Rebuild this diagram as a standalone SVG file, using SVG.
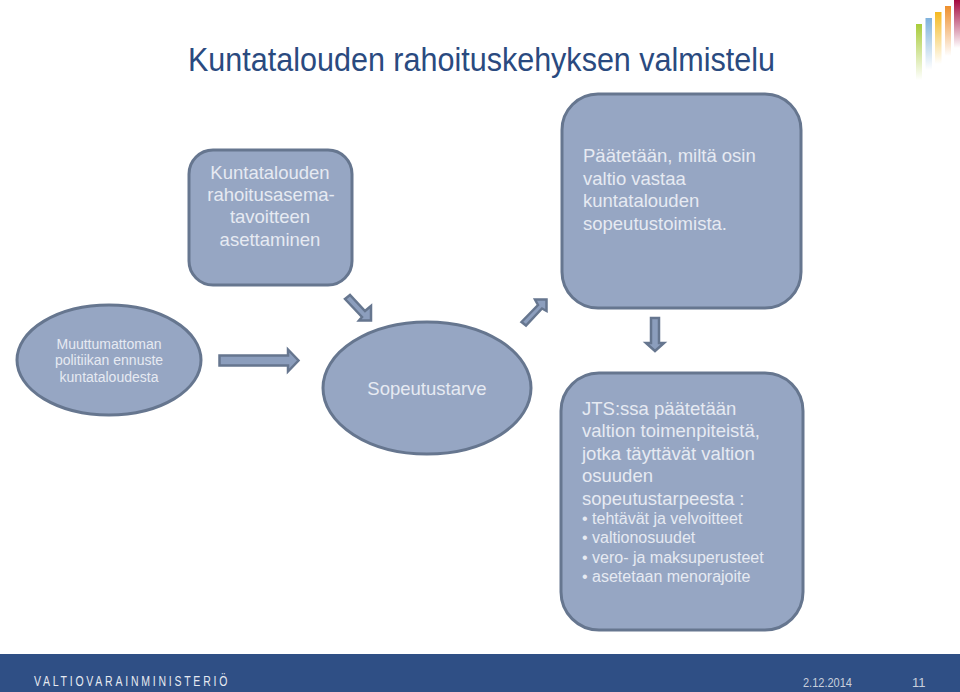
<svg xmlns="http://www.w3.org/2000/svg" width="960" height="692" viewBox="0 0 960 692">
<style>
text{font-family:"Liberation Sans",Arial,sans-serif;fill:#e6eaf2}
.n{fill:#96a6c3;stroke:#66768f;stroke-width:3}
.a{fill:#8c9ebd;stroke:#66768f;stroke-width:2.5}
.f{fill:#c9d0dc;font-size:13px}
</style>
<defs>
<linearGradient id="g1" x1="0" y1="0" x2="0" y2="1"><stop offset="0" stop-color="#a9cc3a"/><stop offset="1" stop-color="#a9cc3a" stop-opacity="0"/></linearGradient>
<linearGradient id="g2" x1="0" y1="0" x2="0" y2="1"><stop offset="0" stop-color="#7fb2dc"/><stop offset="1" stop-color="#7fb2dc" stop-opacity="0"/></linearGradient>
<linearGradient id="g3" x1="0" y1="0" x2="0" y2="1"><stop offset="0" stop-color="#f5b921"/><stop offset="1" stop-color="#f5b921" stop-opacity="0"/></linearGradient>
<linearGradient id="g4" x1="0" y1="0" x2="0" y2="1"><stop offset="0" stop-color="#ee8f2c"/><stop offset="1" stop-color="#ee8f2c" stop-opacity="0"/></linearGradient>
<linearGradient id="g5" x1="0" y1="0" x2="0" y2="1"><stop offset="0" stop-color="#a5093f"/><stop offset="1" stop-color="#a5093f" stop-opacity="0"/></linearGradient>
</defs>
<rect width="960" height="692" fill="#fff"/>
<g id="logo">
<rect x="916" y="24" width="6" height="56" fill="url(#g1)"/>
<rect x="925.500" y="18" width="6.500" height="52" fill="url(#g2)"/>
<rect x="935" y="12" width="6.500" height="52" fill="url(#g3)"/>
<rect x="945" y="6" width="6" height="50" fill="url(#g4)"/>
<rect x="954" y="0" width="6" height="48" fill="url(#g5)"/>
</g>
<text id="title" x="188" y="71" style="font-size:32.5px;fill:#2a4a7f" textLength="587" lengthAdjust="spacingAndGlyphs">Kuntatalouden rahoituskehyksen valmistelu</text>
<g id="connectors">
<path class="a" d="M219.500 355.500H288V349.500L298.500 360.500L288 371.500V365.500H219.500Z"/>
<path class="a" d="M345 299L350 295L365 311L371 306V320.500H359L362 317Z"/>
<path class="a" d="M521.500 322L526 325.500L542 308.500L546.500 311V299.500H535L538 305Z"/>
<path class="a" d="M651 318H659V343H664L655 351L646 343H651Z"/>
</g>
<g id="node-tavoite">
<rect class="n" x="189" y="150" width="163" height="135" rx="24"/>
<g font-size="18.500" text-anchor="middle"><text x="270" y="179">Kuntatalouden</text><text x="271" y="201">rahoitusasema-</text><text x="270" y="223">tavoitteen</text><text x="270" y="246">asettaminen</text></g>
</g>
<g id="node-paatetaan">
<rect class="n" x="562" y="94" width="239" height="214" rx="36"/>
<g font-size="18.500"><text x="583" y="162">Päätetään, miltä osin</text><text x="583" y="185">valtio vastaa</text><text x="583" y="207">kuntatalouden</text><text x="583" y="230">sopeutustoimista.</text></g>
</g>
<g id="node-ennuste">
<ellipse class="n" cx="109" cy="360" rx="92" ry="55"/>
<g font-size="14" text-anchor="middle"><text x="109" y="349">Muuttumattoman</text><text x="109" y="365">politiikan ennuste</text><text x="109" y="382">kuntataloudesta</text></g>
</g>
<g id="node-sopeutustarve">
<ellipse class="n" cx="427" cy="388" rx="104" ry="66"/>
<text x="427" y="395" font-size="18.500" text-anchor="middle">Sopeutustarve</text>
</g>
<g id="node-jts">
<rect class="n" x="561" y="373" width="242" height="257" rx="38"/>
<g font-size="18.500"><text x="582" y="415">JTS:ssa päätetään</text><text x="582" y="437">valtion toimenpiteistä,</text><text x="582" y="460">jotka täyttävät valtion</text><text x="582" y="482">osuuden</text><text x="582" y="505">sopeutustarpeesta :</text></g>
<g font-size="16"><text x="582" y="524">• tehtävät ja velvoitteet</text><text x="582" y="543">• valtionosuudet</text><text x="582" y="563">• vero- ja maksuperusteet</text><text x="582" y="582">• asetetaan menorajoite</text></g>
</g>
<g id="footer">
<rect y="654" width="960" height="38" fill="#2f4f85"/>
<text transform="translate(34 686) scale(.7 1)" style="font-size:15px;letter-spacing:3.950px;fill:#e6eaf1">VALTIOVARAINMINISTERIÖ</text>
<text class="f" x="803" y="687" textLength="49" lengthAdjust="spacingAndGlyphs">2.12.2014</text>
<text class="f" x="912" y="687">11</text>
</g>
</svg>
